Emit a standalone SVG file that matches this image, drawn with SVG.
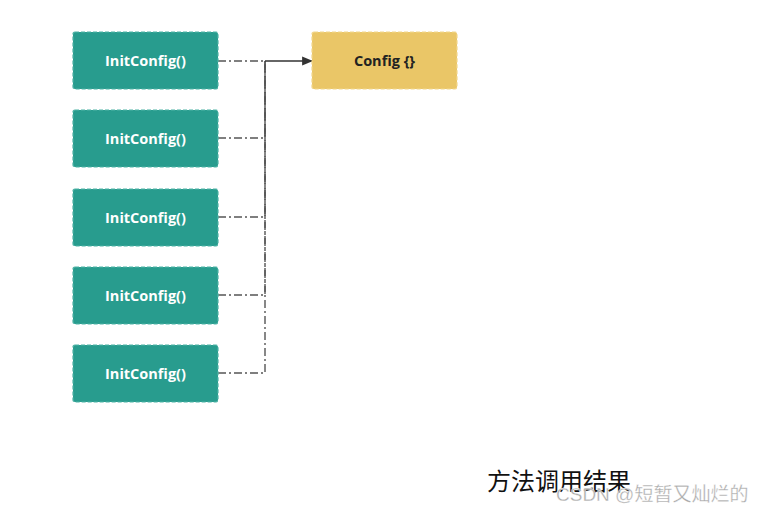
<svg xmlns="http://www.w3.org/2000/svg" width="762" height="513" viewBox="0 0 762 513">
<style>
.g{fill:#289C8E;stroke:#4FB3A6;stroke-width:1.2;stroke-dasharray:4 2}
.y{fill:#EAC667;stroke:#F2D78E;stroke-width:1.2;stroke-dasharray:4 2}
.t{font-family:"Open Sans","Noto Sans",sans-serif;font-weight:bold;font-size:14.5px;text-anchor:middle;dominant-baseline:central}
.c{fill:none;stroke:#555;stroke-width:1.4;stroke-dasharray:8 3 2 3}
</style>
<defs><marker id="a" viewBox="0 0 10 10" refX="9" refY="5" markerWidth="11" markerHeight="11" markerUnits="userSpaceOnUse" orient="auto"><path d="M0,1 L10,5 L0,9 z" fill="#333"/></marker></defs>
<rect width="762" height="513" fill="#fff"/>
<g id="connectors">
<path class="c" d="M218,61 H265"/>
<path class="c" d="M218,138 H265 V61"/>
<path class="c" d="M218,217 H265 V61"/>
<path class="c" d="M218,295 H265 V61"/>
<path class="c" d="M218,373 H265 V61"/>
<path d="M265,61 H312" fill="none" stroke="#333" stroke-width="1.4" marker-end="url(#a)"/>
</g>
<g id="n1"><rect class="g" x="73" y="32" width="145" height="57" rx="2"/><text class="t" x="145.5" y="60.5" fill="#fff">InitConfig()</text></g>
<g id="n2"><rect class="g" x="73" y="110" width="145" height="57" rx="2"/><text class="t" x="145.5" y="138.5" fill="#fff">InitConfig()</text></g>
<g id="n3"><rect class="g" x="73" y="189" width="145" height="57" rx="2"/><text class="t" x="145.5" y="217.5" fill="#fff">InitConfig()</text></g>
<g id="n4"><rect class="g" x="73" y="267" width="145" height="57" rx="2"/><text class="t" x="145.5" y="295.5" fill="#fff">InitConfig()</text></g>
<g id="n5"><rect class="g" x="73" y="345" width="145" height="57" rx="2"/><text class="t" x="145.5" y="373.5" fill="#fff">InitConfig()</text></g>
<g id="config"><rect class="y" x="312" y="32" width="145" height="57" rx="2"/><text class="t" x="384.5" y="60.5" fill="#222">Config {}</text></g>
<text x="487" y="490" font-family="'Noto Sans CJK SC',sans-serif" font-size="24" fill="#111">方法调用结果</text>
<text x="556" y="501" font-family="'Liberation Sans','Noto Sans CJK SC',sans-serif" font-size="19" fill="#aaa" stroke="#fff" stroke-width="0.3">CSDN @短暂又灿烂的</text>
</svg>
